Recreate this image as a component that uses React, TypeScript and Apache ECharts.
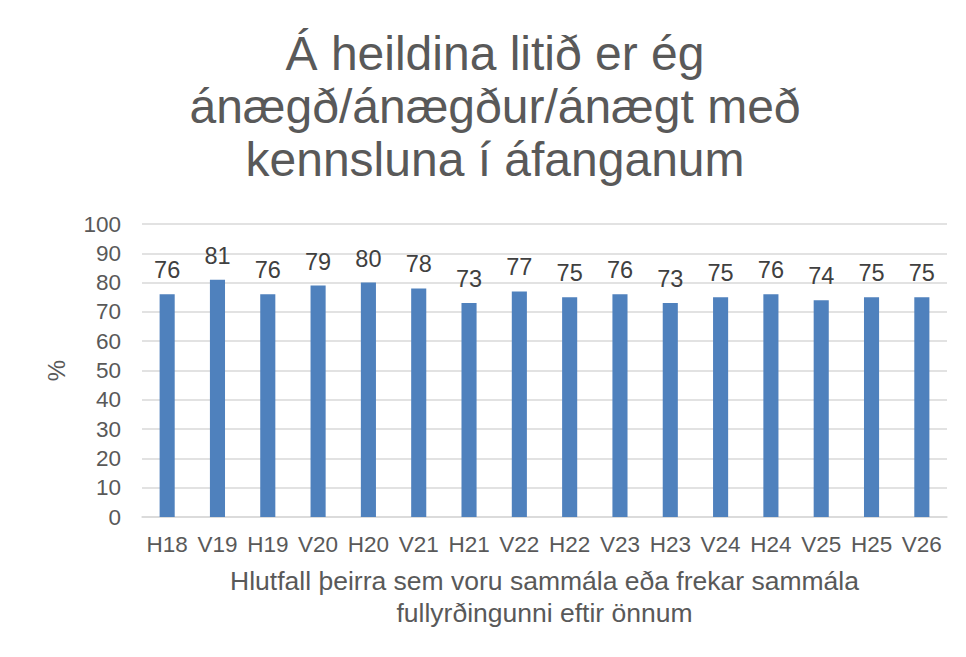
import React, { useEffect, useRef } from "react";
import * as echarts from "echarts";

const categories = ["H18", "V19", "H19", "V20", "H20", "V21", "H21", "V22", "H22", "V23", "H23", "V24", "H24", "V25", "H25", "V26"];
const values = [76, 81, 76, 79, 80, 78, 73, 77, 75, 76, 73, 75, 76, 74, 75, 75];
const titleText = "Á heildina litið er ég\nánægð/ánægður/ánægt með\nkennsluna í áfanganum";
const xAxisName = "Hlutfall þeirra sem voru sammála eða frekar sammála\nfullyrðingunni eftir önnum";
const yAxisName = "%";

const FONT = "'Liberation Sans', Arial, sans-serif";

export default function App() {
  const ref = useRef<HTMLDivElement>(null);
  useEffect(() => {
    if (!ref.current) return;
    const chart = echarts.init(ref.current, null, { renderer: "svg" });
    chart.setOption({
      animation: false,
      backgroundColor: "#ffffff",
      title: {
        text: titleText,
        left: 490,
        top: 22,
        textAlign: "center",
        textStyle: {
          fontFamily: FONT,
          fontSize: 48,
          fontWeight: "normal",
          color: "#595959",
          lineHeight: 53,
        },
      },
      graphic: [
        { type: "line", shape: { x1: 5.5, y1: 5.5, x2: 966, y2: 5.5 }, style: { stroke: "#D9D9D9", lineWidth: 1 } },
        { type: "line", shape: { x1: 5.5, y1: 5.5, x2: 5.5, y2: 657 }, style: { stroke: "#D9D9D9", lineWidth: 1 } },
      ],
      grid: { left: 142, right: 19, top: 224, bottom: 140, containLabel: false },
      xAxis: {
        type: "category",
        data: categories,
        axisTick: { show: false },
        axisLine: { lineStyle: { color: "#D9D9D9", width: 1.5 } },
        axisLabel: { fontFamily: FONT, fontSize: 22.5, color: "#595959", margin: 16, interval: 0 },
        name: xAxisName,
        nameLocation: "middle",
        nameGap: 48,
        nameTextStyle: { fontFamily: FONT, fontSize: 26.5, color: "#595959", lineHeight: 32 },
      },
      yAxis: {
        type: "value",
        min: 0,
        max: 100,
        interval: 10,
        axisLine: { show: false },
        axisTick: { show: false },
        splitLine: { lineStyle: { color: "#D9D9D9", width: 1.5 } },
        axisLabel: { fontFamily: FONT, fontSize: 22.5, color: "#595959", margin: 21 },
        name: yAxisName,
        nameLocation: "middle",
        nameGap: 74,
        nameRotate: 90,
        nameTextStyle: { fontFamily: FONT, fontSize: 24, color: "#595959" },
      },
      series: [
        {
          type: "bar",
          data: values,
          barWidth: "30%",
          itemStyle: { color: "#4F81BD" },
          label: {
            show: true,
            position: "top",
            distance: 12,
            fontFamily: FONT,
            fontSize: 23.5,
            color: "#404040",
          },
        },
      ],
    });
    return () => chart.dispose();
  }, []);
  return <div ref={ref} style={{ width: 966, height: 657, margin: -8 }} />;
}
